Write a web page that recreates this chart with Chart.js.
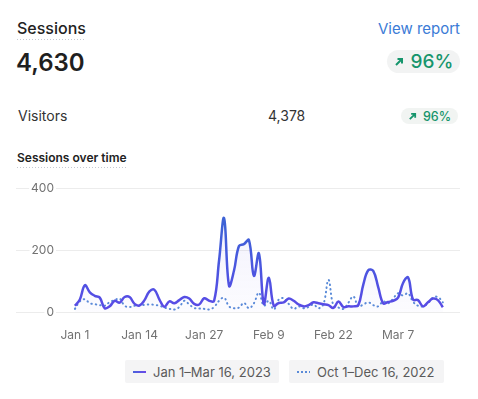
<!DOCTYPE html>
<html>
<head>
<meta charset="utf-8">
<script src="https://cdn.jsdelivr.net/npm/chart.js@4.4.1/dist/chart.umd.min.js"></script>
<style>
  html, body { margin: 0; padding: 0; background: #fff; }
  body { width: 478px; height: 399px; position: relative; overflow: hidden; font-family: Inter, "Noto Sans", sans-serif; color: #222; }
  .abs { position: absolute; line-height: 1; white-space: nowrap; }
  .dotted {
    padding-bottom: 4px;
    background-image: linear-gradient(to right, #c6c9d1 50%, transparent 50%);
    background-size: 3px 1.5px;
    background-repeat: repeat-x;
    background-position: left bottom;
  }
  .badge { position: absolute; background: #f2f3f3; border-radius: 12px; color: #16956c; display: flex; align-items: center; justify-content: center; font-weight: 500; }
  .legend-item { position: absolute; top: 360px; height: 23px; background: #f4f4f5; border-radius: 2px; display: flex; align-items: center; font-size: 13px; color: #5a5a5a; }
  .swatch { width: 13px; height: 2px; margin: 0 7px 0 8px; }
  #chartBox { position: absolute; left: 0; top: 178px; width: 478px; height: 175px; }
</style>
</head>
<body>
  <div class="abs dotted" style="left:17px; top:20px; font-size:16px; font-weight:500;">Sessions</div>
  <div class="abs" style="right:18px; top:21px; font-size:15px; color:#3b7bd6;">View report</div>
  <div class="abs" style="left:16px; top:51px; font-size:24px; font-weight:600; color:#1f1f1f;">4,630</div>
  <div class="badge" style="left:387px; top:50px; width:73px; height:23px; font-size:19px;">
    <svg width="10" height="10" viewBox="0 0 10 10" style="margin-right:7px"><path d="M2 8 L8 2 M3.5 2 H8 V6.5" stroke="#16956c" stroke-width="2" fill="none"/></svg>96%
  </div>

  <div class="abs" style="left:18px; top:109px; font-size:14px; color:#333;">Visitors</div>
  <div class="abs" style="left:268px; top:109px; font-size:14px; color:#333;">4,378</div>
  <div class="badge" style="left:401px; top:108px; width:57px; height:16px; border-radius:8px; font-size:12.5px; background:#f1f4f2;">
    <svg width="9" height="9" viewBox="0 0 10 10" style="margin-right:6px"><path d="M2 8 L8 2 M3.5 2 H8 V6.5" stroke="#16956c" stroke-width="2" fill="none"/></svg>96%
  </div>

  <div class="abs dotted" style="left:17px; top:152px; font-size:12px; font-weight:600;">Sessions over time</div>

  <div id="chartBox"><canvas id="sessionsChart"></canvas></div>
  <div id="legend"></div>

<script>
// x categories, one per day
const days = [
  "Jan 1","Jan 2","Jan 3","Jan 4","Jan 5","Jan 6","Jan 7","Jan 8","Jan 9","Jan 10",
  "Jan 11","Jan 12","Jan 13","Jan 14","Jan 15","Jan 16","Jan 17","Jan 18","Jan 19","Jan 20",
  "Jan 21","Jan 22","Jan 23","Jan 24","Jan 25","Jan 26","Jan 27","Jan 28","Jan 29","Jan 30",
  "Jan 31","Feb 1","Feb 2","Feb 3","Feb 4","Feb 5","Feb 6","Feb 7","Feb 8","Feb 9",
  "Feb 10","Feb 11","Feb 12","Feb 13","Feb 14","Feb 15","Feb 16","Feb 17","Feb 18","Feb 19",
  "Feb 20","Feb 21","Feb 22","Feb 23","Feb 24","Feb 25","Feb 26","Feb 27","Feb 28","Mar 1",
  "Mar 2","Mar 3","Mar 4","Mar 5","Mar 6","Mar 7","Mar 8","Mar 9","Mar 10","Mar 11",
  "Mar 12","Mar 13","Mar 14","Mar 15","Mar 16"
];

// labels shown under the x axis
const tickLabels = ["Jan 1", "Jan 14", "Jan 27", "Feb 9", "Feb 22", "Mar 7"];
const yTicks = [0, 200, 400];

const currentLabel = "Jan 1\u2013Mar 16, 2023";
const previousLabel = "Oct 1\u2013Dec 16, 2022";

// sessions per day, current period
const currentSessions = [
  22, 42, 88, 65, 54, 48, 14, 20, 38, 32,
  50, 50, 28, 23, 40, 68, 73, 42, 19, 36,
  30, 40, 50, 45, 28, 26, 46, 38, 38, 168,
  303, 86, 135, 214, 220, 233, 118, 190, 28, 112,
  22, 31, 33, 45, 38, 26, 20, 24, 33, 30,
  27, 24, 15, 36, 18, 20, 20, 24, 90, 136,
  134, 82, 30, 34, 38, 48, 95, 113, 42, 40,
  20, 33, 45, 40, 17
];

// sessions per day, previous period
const previousSessions = [
  12, 36, 43, 30, 27, 24, 22, 34, 40, 45,
  22, 18, 22, 22, 25, 26, 25, 22, 16, 12,
  10, 18, 38, 26, 15, 13, 12, 10, 18, 38,
  48, 20, 14, 16, 31, 14, 30, 64, 22, 38,
  10, 42, 46, 28, 12, 20, 14, 18, 26, 14,
  28, 105, 22, 16, 12, 32, 52, 20, 26, 33,
  24, 20, 36, 30, 45, 62, 55, 62, 35, 22,
  20, 30, 48, 50, 33
];

const AXIS_LEFT = 16;
const PLOT_LEFT = 57;

/**
 * Pair each value with its day index so the x axis can be a linear day scale.
 */
function toPoints(values) {
  return values.map((v, i) => ({ x: i, y: v }));
}

function lineGradient(context) {
  const { ctx, chartArea } = context.chart;
  if (!chartArea) return "#5146e3";
  const g = ctx.createLinearGradient(0, chartArea.bottom, 0, chartArea.top);
  g.addColorStop(0, "#5b4ae6");
  g.addColorStop(0.25, "#4f52e2");
  g.addColorStop(0.7, "#3d62d6");
  g.addColorStop(1, "#3d62d6");
  return g;
}

function areaGradient(context) {
  const { ctx, chartArea } = context.chart;
  if (!chartArea) return "rgba(90,80,230,0.05)";
  const g = ctx.createLinearGradient(0, chartArea.top, 0, chartArea.bottom);
  g.addColorStop(0, "rgba(90,80,230,0.09)");
  g.addColorStop(1, "rgba(90,80,230,0.02)");
  return g;
}

function renderLegend() {
  const legend = document.getElementById("legend");
  legend.innerHTML = `
    <div class="legend-item" style="left:125px; width:154px;">
      <span class="swatch" style="background:linear-gradient(to right,#4a62dc,#6a4ae8)"></span>${currentLabel}
    </div>
    <div class="legend-item" style="left:289px; width:155px;">
      <span class="swatch" style="height:2px; background-image:linear-gradient(to right,#5b8bd8 50%,transparent 50%); background-size:4px 2px;"></span>${previousLabel}
    </div>`;
}

function renderChart() {
  new Chart(document.getElementById("sessionsChart"), {
    type: "line",
    data: {
      datasets: [
        {
          label: currentLabel,
          data: toPoints(currentSessions),
          borderColor: lineGradient,
          backgroundColor: areaGradient,
          fill: "origin",
          borderWidth: 2.5,
          tension: 0.4,
          pointRadius: 0
        },
        {
          label: previousLabel,
          data: toPoints(previousSessions),
          borderColor: "#5a8bd8",
          borderWidth: 2,
          borderDash: [0.5, 4],
          borderCapStyle: "round",
          fill: false,
          tension: 0.4,
          pointRadius: 0
        }
      ]
    },
    options: {
      responsive: true,
      maintainAspectRatio: false,
      animation: false,
      layout: { padding: { left: AXIS_LEFT, right: 18, top: 10, bottom: 2 } },
      plugins: { legend: { display: false }, tooltip: { enabled: false } },
      scales: {
        x: {
          type: "linear",
          min: -3.6,
          max: days.length - 1 + 3.45,
          afterBuildTicks: (scale) => {
            scale.ticks = tickLabels.map((l) => ({ value: days.indexOf(l) }));
          },
          grid: { display: false },
          border: { display: false },
          ticks: {
            autoSkip: false,
            maxRotation: 0,
            padding: 8,
            color: "#727272",
            font: { family: "Inter", size: 12 },
            callback: (value) => days[value]
          }
        },
        y: {
          min: 0,
          max: 400,
          afterFit: (scale) => { scale.width = PLOT_LEFT - AXIS_LEFT; },
          afterBuildTicks: (scale) => { scale.ticks = yTicks.map((v) => ({ value: v })); },
          grid: { color: "#ececec", tickLength: PLOT_LEFT - AXIS_LEFT, lineWidth: 1 },
          border: { display: false },
          ticks: {
            padding: -38,
            color: "#727272",
            font: { family: "Inter", size: 12 },
            showLabelBackdrop: true,
            backdropColor: "#ffffff",
            backdropPadding: { left: 2, right: 2, top: 1, bottom: 1 }
          }
        }
      }
    }
  });
}

renderLegend();
renderChart();
</script>
</body>
</html>
